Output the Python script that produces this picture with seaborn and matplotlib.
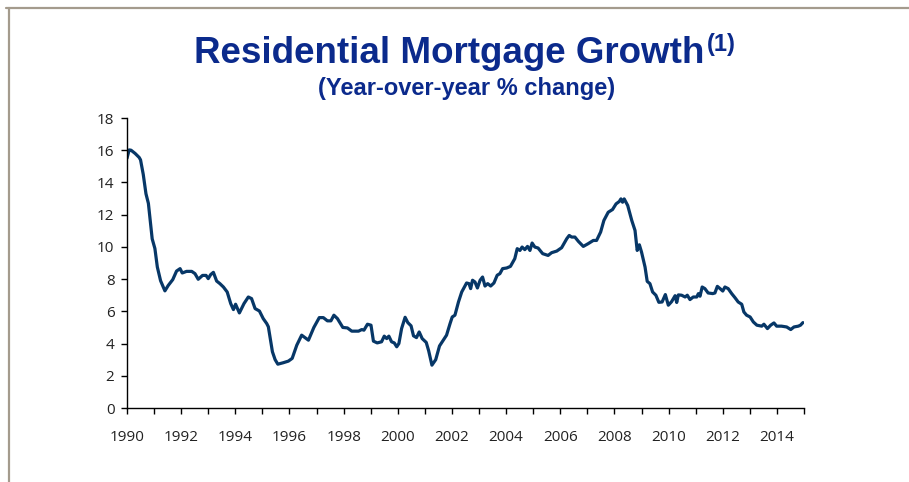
import matplotlib
matplotlib.use("Agg")
import matplotlib.pyplot as plt
from matplotlib.lines import Line2D
from matplotlib.ticker import MultipleLocator, FixedLocator
import seaborn as sns
import pandas as pd

# Year-over-year growth of residential mortgages (%), sampled along the series
years = [
    1990.00, 1990.08, 1990.15, 1990.30, 1990.45, 1990.50, 1990.60, 1990.70, 1990.79, 1990.93,
    1991.03, 1991.12, 1991.24, 1991.40, 1991.52, 1991.69, 1991.83, 1991.96, 1992.04, 1992.20,
    1992.39, 1992.51, 1992.63, 1992.79, 1992.92, 1993.00, 1993.09, 1993.19, 1993.31, 1993.43,
    1993.56, 1993.70, 1993.83, 1993.93, 1994.01, 1994.15, 1994.32, 1994.48, 1994.60, 1994.73,
    1994.89, 1995.03, 1995.16, 1995.22, 1995.37, 1995.47, 1995.57, 1995.77, 1995.96, 1996.10,
    1996.27, 1996.45, 1996.70, 1996.90, 1997.10, 1997.25, 1997.40, 1997.53, 1997.64, 1997.77,
    1997.97, 1998.14, 1998.30, 1998.55, 1998.67, 1998.75, 1998.88, 1999.01, 1999.10, 1999.24,
    1999.40, 1999.50, 1999.59, 1999.67, 1999.77, 1999.87, 1999.96, 2000.04, 2000.14, 2000.27,
    2000.37, 2000.49, 2000.58, 2000.69, 2000.79, 2000.90, 2001.05, 2001.14, 2001.26, 2001.40,
    2001.54, 2001.72, 2001.80, 2001.93, 2002.01, 2002.11, 2002.24, 2002.36, 2002.46, 2002.54,
    2002.63, 2002.69, 2002.76, 2002.85, 2002.94, 2003.04, 2003.13, 2003.22, 2003.32, 2003.43,
    2003.55, 2003.67, 2003.77, 2003.87, 2004.02, 2004.16, 2004.32, 2004.41, 2004.51, 2004.59,
    2004.69, 2004.79, 2004.88, 2004.96, 2005.06, 2005.18, 2005.35, 2005.55, 2005.68, 2005.87,
    2006.05, 2006.24, 2006.33, 2006.42, 2006.54, 2006.67, 2006.85, 2007.03, 2007.22, 2007.34,
    2007.49, 2007.61, 2007.77, 2007.93, 2008.06, 2008.18, 2008.24, 2008.30, 2008.36, 2008.49,
    2008.64, 2008.76, 2008.84, 2008.92, 2009.00, 2009.13, 2009.21, 2009.31, 2009.41, 2009.53,
    2009.64, 2009.76, 2009.88, 2009.99, 2010.11, 2010.24, 2010.30, 2010.36, 2010.48, 2010.61,
    2010.69, 2010.79, 2010.91, 2011.04, 2011.10, 2011.16, 2011.24, 2011.34, 2011.46, 2011.63,
    2011.71, 2011.80, 2011.90, 2012.00, 2012.08, 2012.20, 2012.33, 2012.45, 2012.57, 2012.70,
    2012.78, 2012.88, 2013.01, 2013.13, 2013.26, 2013.44, 2013.52, 2013.65, 2013.77, 2013.89,
    2013.99, 2014.17, 2014.36, 2014.51, 2014.63, 2014.79, 2014.87, 2014.96,
]
growth = [
    15.50, 16.02, 16.00, 15.80, 15.55, 15.40, 14.50, 13.30, 12.70, 10.50,
    9.90, 8.75, 7.90, 7.27, 7.60, 7.97, 8.50, 8.65, 8.38, 8.48,
    8.48, 8.34, 7.99, 8.23, 8.23, 8.03, 8.28, 8.42, 7.88, 7.72,
    7.51, 7.20, 6.48, 6.11, 6.44, 5.90, 6.48, 6.89, 6.79, 6.17,
    6.02, 5.55, 5.24, 5.04, 3.49, 3.00, 2.72, 2.81, 2.91, 3.08,
    3.90, 4.52, 4.21, 5.00, 5.61, 5.61, 5.41, 5.41, 5.76, 5.55,
    5.00, 4.97, 4.77, 4.77, 4.87, 4.83, 5.20, 5.14, 4.15, 4.04,
    4.11, 4.46, 4.31, 4.46, 4.11, 4.04, 3.80, 4.00, 4.93, 5.63,
    5.30, 5.10, 4.48, 4.37, 4.72, 4.31, 4.07, 3.55, 2.66, 3.00,
    3.85, 4.31, 4.52, 5.24, 5.65, 5.76, 6.58, 7.20, 7.51, 7.76,
    7.72, 7.41, 7.93, 7.82, 7.45, 7.93, 8.13, 7.57, 7.72, 7.57,
    7.76, 8.24, 8.34, 8.65, 8.69, 8.79, 9.27, 9.89, 9.78, 9.99,
    9.83, 10.03, 9.78, 10.24, 9.99, 9.93, 9.58, 9.47, 9.64, 9.74,
    9.95, 10.51, 10.71, 10.61, 10.61, 10.34, 10.03, 10.20, 10.40, 10.40,
    10.92, 11.64, 12.15, 12.32, 12.67, 12.82, 12.98, 12.77, 12.98, 12.57,
    11.64, 11.02, 9.78, 10.13, 9.68, 8.75, 7.86, 7.72, 7.20, 7.00,
    6.56, 6.58, 7.04, 6.38, 6.60, 6.97, 6.55, 7.02, 7.00, 6.89,
    7.00, 6.73, 6.89, 6.89, 7.10, 6.94, 7.51, 7.41, 7.14, 7.10,
    7.14, 7.55, 7.41, 7.26, 7.51, 7.41, 7.10, 6.85, 6.58, 6.44,
    5.96, 5.76, 5.65, 5.34, 5.14, 5.08, 5.20, 4.93, 5.14, 5.28,
    5.08, 5.08, 5.03, 4.87, 5.03, 5.08, 5.14, 5.30,
]

x_labels = [str(y) for y in range(1990, 2015, 2)]
y_ticks = list(range(0, 20, 2))

title_text = "Residential Mortgage Growth"
title_note = "(1)"
subtitle_text = "(Year-over-year % change)"

LINE_COLOR = "#073767"
TITLE_COLOR = "#0b2a8c"
FRAME_COLOR = "#a49b8d"
TICK_COLOR = "#222222"

sns.set_theme(style="white")
plt.rcParams["font.family"] = ["Open Sans", "DejaVu Sans"]

W, H, DPI = 909, 482, 100
fig = plt.figure(figsize=(W / DPI, H / DPI), dpi=DPI)
fig.patch.set_facecolor("white")

# plot area in pixel terms
left, right, bottom, top = 127, 804, 408, 118
ax = fig.add_axes([left / W, 1 - bottom / H, (right - left) / W, (bottom - top) / H])

df = pd.DataFrame({"year": years, "growth": growth})
sns.lineplot(data=df, x="year", y="growth", ax=ax, color=LINE_COLOR,
             linewidth=2.3, sort=False, estimator=None)

ax.set_xlim(1990, 2015)
ax.set_ylim(0, 18)
ax.xaxis.set_major_locator(FixedLocator([int(s) for s in x_labels]))
ax.set_xticklabels(x_labels)
ax.xaxis.set_minor_locator(MultipleLocator(1))
ax.set_yticks(y_ticks)
ax.set_yticklabels([str(v) for v in y_ticks])
ax.set_xlabel("")
ax.set_ylabel("")

for side in ("top", "right"):
    ax.spines[side].set_visible(False)
for side in ("left", "bottom"):
    ax.spines[side].set_color("black")
    ax.spines[side].set_linewidth(1.0)

ax.tick_params(axis="both", which="both", direction="out", color="black",
               width=1.0, length=4.5, labelsize=11, labelcolor=TICK_COLOR)
ax.tick_params(axis="x", which="major", pad=11.5)
ax.tick_params(axis="y", pad=4.5, left=True)
ax.tick_params(axis="x", which="both", bottom=True)
ax.grid(False)
ax.set_facecolor("white")

# outer frame: top rule and left rule
fig.add_artist(Line2D([6 / W, 1.0], [1 - 8 / H, 1 - 8 / H], transform=fig.transFigure,
                      color=FRAME_COLOR, linewidth=1.6))
fig.add_artist(Line2D([8.5 / W, 8.5 / W], [0, 1 - 8 / H], transform=fig.transFigure,
                      color=FRAME_COLOR, linewidth=1.6))

# title with superscript note
title_font = ["Liberation Sans", "DejaVu Sans"]
t_main = fig.text(449.5 / W, 1 - 63 / H, title_text, ha="center", va="baseline",
                  fontsize=26.5, fontweight="bold", color=TITLE_COLOR, family=title_font)
fig.canvas.draw()
bb = t_main.get_window_extent(renderer=fig.canvas.get_renderer())
fig.text((bb.x1 + 2) / W, 1 - 51 / H, title_note, ha="left", va="baseline",
         fontsize=17, fontweight="bold", color=TITLE_COLOR, family=title_font)

fig.text(466.5 / W, 1 - 95 / H, subtitle_text, ha="center", va="baseline",
         fontsize=17, fontweight="bold", color=TITLE_COLOR, family=title_font)

fig.savefig("out.png", dpi=DPI, facecolor="white")
